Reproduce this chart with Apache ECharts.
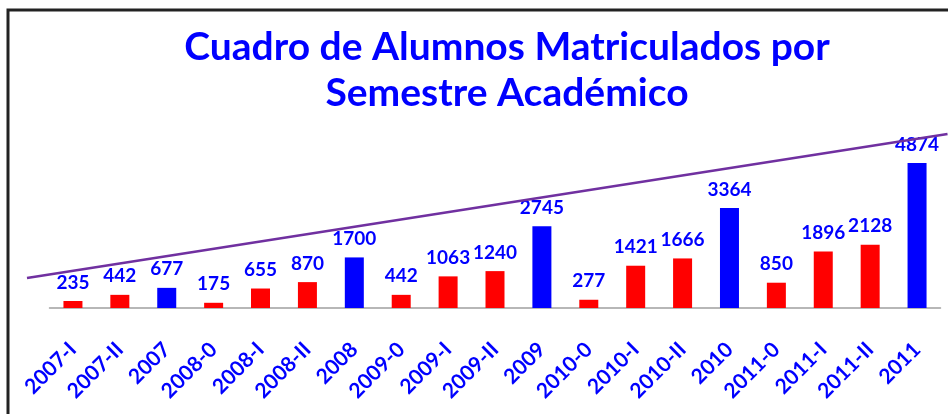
<!DOCTYPE html>
<html>
<head>
<meta charset="utf-8">
<script src="https://cdn.jsdelivr.net/npm/echarts@6/dist/echarts.min.js"></script>
<style>
html,body{margin:0;padding:0;background:#fff;}
#chart{width:948px;height:414px;}
</style>
</head>
<body>
<div id="chart"></div>
<script>
const categories = ['2007-I','2007-II','2007','2008-0','2008-I','2008-II','2008','2009-0','2009-I','2009-II','2009','2010-0','2010-I','2010-II','2010','2011-0','2011-I','2011-II','2011'];
const alumnos = [235,442,677,175,655,870,1700,442,1063,1240,2745,277,1421,1666,3364,850,1896,2128,4874];
// trend line drawn over the chart, expressed in category-index units (x) and student counts (y)
const trendPosition = [-0.98, 18.65];
const trendValue = [1008, 5849];

const FONT = 'Lato';
const GRID_LEFT = 49.5, GRID_RIGHT = 7.5, W = 948;
const band = (W - GRID_LEFT - GRID_RIGHT) / categories.length;
const chart = echarts.init(document.getElementById('chart'));
chart.setOption({
  animation: false,
  backgroundColor: '#ffffff',
  title: {
    text: 'Cuadro de Alumnos Matriculados por\nSemestre Académico',
    left: 502,
    top: 19,
    textAlign: 'center',
    textStyle: {color: '#0000FF', fontFamily: FONT, fontWeight: 'bold', fontSize: 39, lineHeight: 46}
  },
  graphic: [{
    type: 'rect', silent: true,
    shape: {x: 8, y: 10, width: 1000, height: 500},
    style: {fill: 'none', stroke: '#222', lineWidth: 3}
  }],
  grid: [
    {left: GRID_LEFT, right: GRID_RIGHT, bottom: 106, top: 129.5},
    {left: 0, right: 0, bottom: 106, top: 129.5}
  ],
  xAxis: [{
    type: 'category',
    gridIndex: 0,
    data: categories,
    axisLine: {lineStyle: {color: '#A0A0A0', width: 1.5}},
    axisTick: {show: false},
    axisLabel: {rotate: 45, margin: 38, color: '#0000FF', fontFamily: FONT, fontWeight: 'bold', fontSize: 21, interval: 0}
  }, {
    type: 'value', gridIndex: 1,
    min: -GRID_LEFT / band - 0.5,
    max: (W - GRID_LEFT) / band - 0.5,
    show: false
  }],
  yAxis: [
    {type: 'value', gridIndex: 0, min: 0, max: 6000, show: false},
    {type: 'value', gridIndex: 1, min: 0, max: 6000, show: false}
  ],
  series: [{
    type: 'bar',
    data: alumnos.map((v, i) => ({
      value: v,
      itemStyle: {color: categories[i].indexOf('-') === -1 ? '#0000FF' : '#FF0000'}
    })),
    barWidth: 19,
    label: {show: true, position: 'top', distance: 9, color: '#0000FF', fontFamily: FONT, fontWeight: 'bold', fontSize: 19}
  }, {
    type: 'line',
    xAxisIndex: 1,
    yAxisIndex: 1,
    data: trendPosition.map((p, i) => [p, trendValue[i]]),
    symbol: 'none',
    clip: false,
    lineStyle: {color: '#7030A0', width: 2.5},
    z: 5
  }]
});
</script>
</body>
</html>
